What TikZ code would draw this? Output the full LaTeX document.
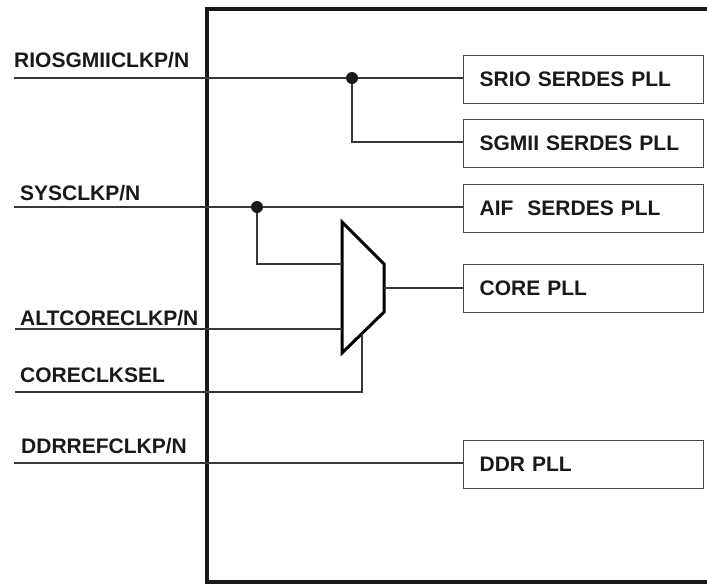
\documentclass[tikz,border=0pt]{standalone}
\usepackage{fontspec}
\setmainfont{Liberation Sans}
\begin{document}
\begin{tikzpicture}[x=1pt,y=-1pt,
  wire/.style={draw=black!78,line width=1.2pt},
  frame/.style={draw=black!90,line width=3.6pt},
  muxline/.style={draw=black,line width=3pt,line join=miter},
  pllbox/.style={draw=black!72,line width=1.2pt,anchor=north west,minimum height=48pt,
    inner xsep=16pt,text width=208pt,align=left,font=\bfseries\fontsize{21}{21}\selectfont,text=black!90},
  pin/.style={anchor=base west,inner sep=0pt,font=\bfseries\fontsize{21}{21}\selectfont,text=black!90},
  junction/.style={circle,fill=black!90,inner sep=0pt,minimum size=12pt}]
\useasboundingbox (0,0) rectangle (707,584);
% outer frame
\draw[frame] (707,9) -- (207,9) -- (207,582) -- (707,582);
% labels
\node[pin] (lrio) at (14,67) {RIOSGMIICLKP/N};
\node[pin] (lsys) at (20,200) {SYSCLKP/N};
\node[pin] (lalt) at (20,325) {ALTCORECLKP/N};
\node[pin] (lsel) at (20,382) {CORECLKSEL};
\node[pin] (lddr) at (21,453) {DDRREFCLKP/N};
% pin end points
\coordinate (prio) at (14,78);
\coordinate (psys) at (14,207);
\coordinate (palt) at (15,329);
\coordinate (psel) at (15,392);
\coordinate (pddr) at (14,463);
% boxes
\node[pllbox] (srio) at (463,55) {SRIO SERDES PLL};
\node[pllbox] (sgmii) at (463,119) {SGMII SERDES PLL};
\node[pllbox] (aif) at (463,184) {AIF\ \ SERDES PLL};
\node[pllbox] (core) at (463,264) {CORE PLL};
\node[pllbox] (ddr) at (463,440) {DDR PLL};
% mux
\coordinate (m1) at (342,222);
\coordinate (m2) at (384,264);
\coordinate (m3) at (384,312);
\coordinate (m4) at (342,353);
\draw[muxline] (m1) -- (m2) -- (m3) -- (m4) -- cycle;
\coordinate (muxout) at (384,288);
\coordinate (muxin1) at (342,264);
\coordinate (muxin2) at (342,329);
\coordinate (muxsel) at (362,334);
% junctions
\node[junction] (j1) at (352,78) {};
\node[junction] (j2) at (257,207) {};
% wires
\draw[wire] (prio) -- (j1) -- (j1 -| srio.west);
\draw[wire] (j1) |- (j1 |- 0,142) -- (sgmii.west |- 0,142);
\draw[wire] (psys) -- (j2) -- (j2 -| aif.west);
\draw[wire] (j2) |- (muxin1);
\draw[wire] (palt) -- (muxin2);
\draw[wire] (psel) -| (muxsel);
\draw[wire] (muxout) -- (muxout -| core.west);
\draw[wire] (pddr) -- (pddr -| ddr.west);
\end{tikzpicture}
\end{document}
